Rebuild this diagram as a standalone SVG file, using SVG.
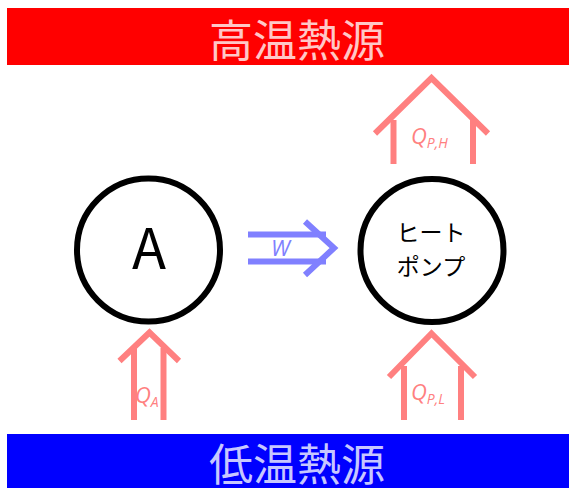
<svg xmlns="http://www.w3.org/2000/svg" width="569" height="488" viewBox="0 0 569 488">
<style>
.band{font-family:"Noto Sans CJK JP","Noto Sans",sans-serif;font-size:44px;fill:#ffffff;fill-opacity:0.78;text-anchor:middle}
.node{fill:#ffffff;stroke:#000000;stroke-width:6}
.heat{fill:none;stroke:#ff8080;stroke-width:6}
.work{fill:none;stroke:#8080ff;stroke-width:6}
.q{font-family:"Open Sans","Noto Sans",sans-serif;font-style:italic;fill:#ff8080}
.w{font-family:"Open Sans","Noto Sans",sans-serif;font-style:italic;fill:#8080ff}
.lbl{font-family:"Noto Sans CJK JP","Noto Sans",sans-serif;fill:#000000;text-anchor:middle}
</style>
<g id="hot">
<rect x="7" y="8" width="562" height="57" fill="#ff0000"/>
<text class="band" x="297" y="57">高温熱源</text>
</g>
<g id="cold">
<rect x="7" y="434" width="562" height="54" fill="#0000ff"/>
<text class="band" x="297" y="481">低温熱源</text>
</g>
<g id="A">
<circle class="node" cx="148.5" cy="250" r="71.5"/>
<text class="lbl" x="149" y="269" font-size="56">A</text>
</g>
<g id="heatpump">
<circle class="node" cx="432" cy="250.5" r="71.5"/>
<text class="lbl" x="431" y="241" font-size="23">ヒート</text>
<text class="lbl" x="431" y="275" font-size="23">ポンプ</text>
</g>
<g id="connectors">
<g id="QA">
<polyline class="heat" points="119.5,361 149.5,332.5 179,361"/>
<line class="heat" x1="134" y1="348" x2="134" y2="420"/>
<line class="heat" x1="163.5" y1="348" x2="163.5" y2="420"/>
<text class="q" x="135" y="403" font-size="22">Q<tspan font-size="14" dy="4">A</tspan></text>
</g>
<g id="QPL">
<polyline class="heat" points="389,377 431.5,333.5 475,377"/>
<line class="heat" x1="404" y1="366" x2="404" y2="420"/>
<line class="heat" x1="461" y1="366" x2="461" y2="420"/>
<text class="q" x="411" y="400" font-size="22">Q<tspan font-size="14" dy="4">P,L</tspan></text>
</g>
<g id="QPH">
<polyline class="heat" points="375,133.5 431.5,78 488,133.5"/>
<line class="heat" x1="393.5" y1="120" x2="393.5" y2="164"/>
<line class="heat" x1="473" y1="120" x2="473" y2="164"/>
<text class="q" x="411" y="144" font-size="22">Q<tspan font-size="14" dy="4">P,H</tspan></text>
</g>
<g id="W">
<line class="work" x1="248" y1="234.5" x2="326" y2="234.5"/>
<line class="work" x1="248" y1="261.5" x2="326" y2="261.5"/>
<polyline class="work" points="305,221.5 334,248 305,275"/>
<text class="w" x="271" y="256" font-size="22">W</text>
</g>
</g>
</svg>
